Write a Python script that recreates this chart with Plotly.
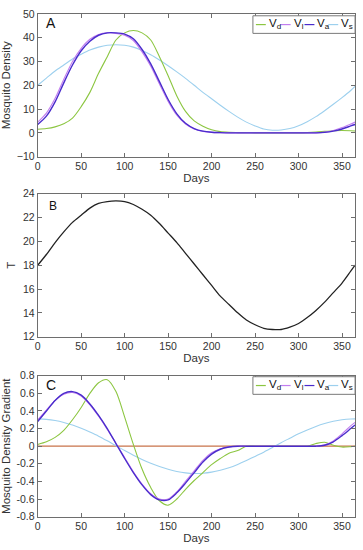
import plotly.graph_objects as go

W, H = 363, 550

days = [0, 10, 20, 30, 40, 50, 60, 70, 80, 90, 100, 110, 120, 130, 140, 150, 160, 170, 180,
        190, 200, 210, 220, 230, 240, 250, 260, 270, 280, 290, 300, 310, 320, 330, 340, 350, 360, 365]

# Panel A: mosquito density
Vd = [1.5, 1.8, 2.5, 3.8, 6.2, 11, 17, 25, 32, 39, 42, 43, 42, 39, 32, 24, 15.5, 9, 5, 2.8,
      1.3, 0.5, 0.2, 0.1, 0.05, 0, 0, 0, 0, 0, 0, 0.1, 0.3, 0.6, 0.9, 1.0, 0.9, 0.8]
Vl = [4.5, 8.3, 14.5, 22.5, 30, 35.5, 39.3, 41.3, 42, 41.8, 41, 38.8, 34, 28, 20.5, 13.2, 7.4, 3.7, 1.6, 0.6,
      0.2, 0.08, 0, 0, 0, 0, 0, 0, 0, 0, 0, 0, 0, 0.3, 1.0, 2.2, 3.7, 4.5]
Va = [3.5, 7, 13, 21, 28.5, 34.5, 38.5, 41, 42, 42, 41.5, 39.5, 35, 29, 21.5, 14, 8, 4, 1.8, 0.7,
      0.25, 0.1, 0, 0, 0, 0, 0, 0, 0, 0, 0, 0, 0, 0.2, 0.7, 1.6, 2.9, 3.5]
Vs = [20, 23, 26, 28.5, 31, 33, 34.8, 36, 36.8, 37, 36.8, 36, 34.6, 32.8, 30.6, 28.2, 25.6, 22.9, 20, 17,
      14.3, 11.6, 9, 6.6, 4.5, 2.9, 1.6, 1.1, 1.2, 1.8, 3, 4.7, 6.8, 9.3, 12, 14.8, 17.8, 19.5]

# Panel B: temperature
T = [18, 18.9, 19.9, 20.8, 21.6, 22.2, 22.8, 23.2, 23.35, 23.4, 23.35, 23.1, 22.7, 22.2, 21.5, 20.7, 19.9,
     19.0, 18.1, 17.2, 16.3, 15.4, 14.7, 14.0, 13.4, 13.0, 12.7, 12.6, 12.6, 12.8, 13.1, 13.6, 14.2, 14.9,
     15.7, 16.5, 17.5, 18.0]

# Panel C: gradients
dVd = [0.02, 0.05, 0.1, 0.18, 0.3, 0.44, 0.6, 0.72, 0.755, 0.62, 0.33, 0.02, -0.26, -0.47, -0.62, -0.67,
       -0.6, -0.49, -0.39, -0.3, -0.21, -0.14, -0.08, -0.05, 0, 0, 0, 0, 0, 0, 0, 0, 0.03, 0.045, 0.01,
       -0.01, -0.005, 0]
dVl = [0.3, 0.41, 0.52, 0.59, 0.61, 0.57, 0.47, 0.34, 0.19, 0.03, -0.13, -0.29, -0.43, -0.54, -0.6, -0.6,
       -0.52, -0.4, -0.28, -0.16, -0.075, -0.03, -0.008, 0, 0, 0, 0, 0, 0, 0, 0, 0, 0, 0.015, 0.06, 0.14,
       0.23, 0.27]
dVa = [0.28, 0.40, 0.52, 0.6, 0.62, 0.58, 0.48, 0.35, 0.2, 0.03, -0.14, -0.3, -0.44, -0.55, -0.61, -0.61,
       -0.53, -0.42, -0.3, -0.18, -0.09, -0.035, -0.01, 0, 0, 0, 0, 0, 0, 0, 0, 0, 0, 0.01, 0.05, 0.12,
       0.2, 0.24]
dVs = [0.31, 0.305, 0.292, 0.27, 0.24, 0.203, 0.16, 0.114, 0.061, 0.005, -0.05, -0.102, -0.15, -0.194,
       -0.231, -0.263, -0.287, -0.303, -0.31, -0.307, -0.295, -0.274, -0.245, -0.207, -0.163, -0.116,
       -0.068, -0.014, 0.04, 0.09, 0.14, 0.184, 0.224, 0.257, 0.283, 0.3, 0.309, 0.31]
zero_x = [0, 365]
zero_y = [0, 0]

x_ticks = [0, 50, 100, 150, 200, 250, 300, 350]
yA_ticks = [-10, 0, 10, 20, 30, 40, 50]
yB_ticks = [12, 14, 16, 18, 20, 22, 24]
yC_ticks = [-0.8, -0.6, -0.4, -0.2, 0, 0.2, 0.4, 0.6, 0.8]
yC_text = ["-0.8", "-0.6", "-0.4", "-0.2", "0", "0.2", "0.4", "0.6", "0.8"]
legend_names = ["V<sub>d</sub>", "V<sub>l</sub>", "V<sub>a</sub>", "V<sub>s</sub>"]

C_D, C_L, C_A, C_S = "#8cc641", "#c27ef0", "#4a2ccc", "#9dd0ee"
C_ZERO = "#c8734a"
FONT = "Liberation Sans, Arial, sans-serif"
TXT = "#333333"

fig = go.Figure()

def line(x, y, color, xa, ya, width=1.1):
    fig.add_trace(go.Scatter(x=x, y=y, mode="lines", line=dict(color=color, width=width, shape="spline", smoothing=0.8),
                             xaxis=xa, yaxis=ya, showlegend=False, hoverinfo="skip"))

line(days, Vs, C_S, "x", "y")
line(days, Vd, C_D, "x", "y")
line(days, Vl, C_L, "x", "y")
line(days, Va, C_A, "x", "y", 1.4)

line(days, T, "#222222", "x2", "y2", 1.3)

fig.add_trace(go.Scatter(x=zero_x, y=zero_y, mode="lines", line=dict(color=C_ZERO, width=1.2),
                         xaxis="x3", yaxis="y3", showlegend=False, hoverinfo="skip"))
line(days, dVs, C_S, "x3", "y3")
line(days, dVd, C_D, "x3", "y3")
line(days, dVl, C_L, "x3", "y3")
line(days, dVa, C_A, "x3", "y3", 1.4)

xdom = [35 / W, 355 / W]
def ydom(top, bot):
    return [1 - bot / H, 1 - top / H]

axis_common = dict(showline=True, linecolor="#6e6e6e", linewidth=1, mirror="ticks", ticks="inside",
                   ticklen=4, tickcolor="#6e6e6e", showgrid=False, zeroline=False,
                   tickfont=dict(family=FONT, size=10.5, color=TXT))

def xaxis(anchor):
    return dict(axis_common, domain=xdom, range=[0, 365], tickvals=x_ticks, anchor=anchor,
                title=dict(text="Days", font=dict(family=FONT, size=11.5, color=TXT), standoff=2))

fig.update_layout(
    width=W, height=H, margin=dict(l=0, r=0, t=0, b=0),
    paper_bgcolor="white", plot_bgcolor="white",
    xaxis=xaxis("y"),
    xaxis2=xaxis("y2"),
    xaxis3=xaxis("y3"),
    yaxis=dict(axis_common, domain=ydom(8, 154), range=[-10, 50], tickvals=yA_ticks, anchor="x",
               title=dict(text="Mosquito Density", font=dict(family=FONT, size=11.5, color=TXT), standoff=4)),
    yaxis2=dict(axis_common, domain=ydom(192, 338), range=[12, 24], tickvals=yB_ticks, anchor="x2",
                title=dict(text="T", font=dict(family=FONT, size=11.5, color=TXT), standoff=4)),
    yaxis3=dict(axis_common, domain=ydom(378, 522), range=[-0.8, 0.8], tickvals=yC_ticks, ticktext=yC_text,
                anchor="x3",
                title=dict(text="Mosquito Density Gradient", font=dict(family=FONT, size=11.5, color=TXT), standoff=4)),
    showlegend=False,
)

def px(x):
    return x / W
def py(y):
    return 1 - y / H

# Panel letters
for letter, x, y, size in [("A", 41, 17, 14), ("B", 44, 204, 12), ("C", 41, 387, 14)]:
    fig.add_annotation(text=letter, x=px(x), y=py(y), xref="paper", yref="paper", showarrow=False,
                       xanchor="left", yanchor="middle", font=dict(family=FONT, size=size, color="#111111"))

# Manual legends (A and C)
colors = [C_D, C_L, C_A, C_S]
line_x = [255, 280, 304, 328]
shapes = []
for top, bot in [(10, 28), (379, 397)]:
    cy = (top + bot) / 2
    shapes.append(dict(type="rect", xref="paper", yref="paper", x0=px(252), x1=px(355), y0=py(bot), y1=py(top),
                       line=dict(color="#7a7a7a", width=1), fillcolor="white", layer="above"))
    for name, col, lx in zip(legend_names, colors, line_x):
        shapes.append(dict(type="line", xref="paper", yref="paper", x0=px(lx), x1=px(lx + 10), y0=py(cy), y1=py(cy),
                           line=dict(color=col, width=1.2), layer="above"))
        fig.add_annotation(text=name, x=px(lx + 11), y=py(cy - 1), xref="paper", yref="paper", showarrow=False,
                           xanchor="left", yanchor="middle", font=dict(family=FONT, size=11.5, color="#111111"))
fig.update_layout(shapes=shapes)

fig.write_html("out.html", config={"displayModeBar": False},
               post_script="document.body.style.margin='0';document.body.style.overflow='hidden';")
